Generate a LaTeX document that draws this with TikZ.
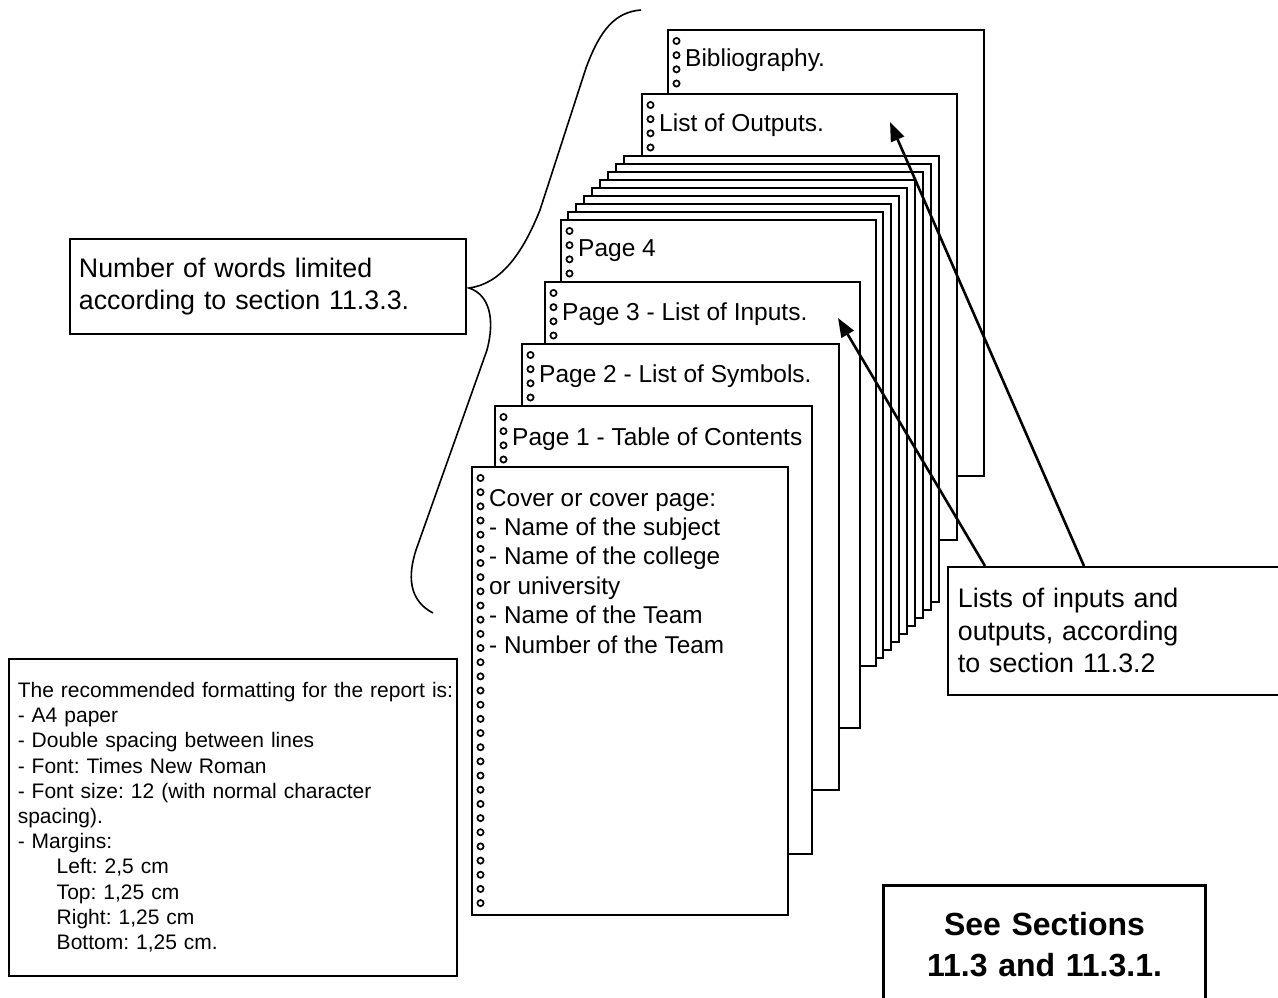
\documentclass[tikz,border=0pt]{standalone}
\usepackage{fontspec}
\setmainfont{Liberation Sans}
\usetikzlibrary{arrows.meta,calc}
\newcommand\drawsheet[5]{%
  \node[sheet, minimum width=#4pt, minimum height=#5pt] (#1) at (#2,#3) {};
  \foreach \k in {0,...,30}{\draw[ring] (#2+9.5,#3+12+14.17*\k) circle[radius=3.1pt];}
}
\frenchspacing
\begin{document}
\frenchspacing
\begin{tikzpicture}[x=1pt,y=-1pt,
  sheet/.style={draw, line width=1.8pt, fill=white, anchor=north west, inner sep=0pt},
  ring/.style={line width=1.7pt},
  ptext/.style={anchor=base west, inner sep=0pt, font=\fontsize{24.5}{29.4}\selectfont},
  infobox/.style={draw, line width=1.8pt, fill=white, anchor=north west, align=left, inner ysep=0pt},
  arr/.style={line width=2.6pt, -{Triangle[length=19pt,width=14pt]}},
  brace/.style={line width=1.6pt},
]
\useasboundingbox (0,0) rectangle (1278,998);
\clip (0,0) rectangle (1278,998);

% sheets, back to front
\drawsheet{bib}{667}{29}{316}{446}
\node[ptext] (tbib) at (685,66.7) {Bibliography.};
\drawsheet{outs}{641}{93}{315}{446}
\node[ptext] (touts) at (659,131.7) {List of Outputs.};
\foreach \j in {0,...,7}{
  \drawsheet{st\j}{623-8*\j}{155+8*\j}{315}{446}
}
\drawsheet{p4}{560}{219}{315}{446}
\node[ptext] (tp4) at (578,256) {Page 4};
\drawsheet{p3}{544}{281}{315}{446}
\node[ptext] (tp3) at (562,320) {Page 3 - List of Inputs.};
\drawsheet{p2}{521}{343}{317}{446}
\node[ptext] (tp2) at (539,382) {Page 2 - List of Symbols.};
\drawsheet{p1}{494}{405}{317}{448}
\node[ptext] (tp1) at (512,445) {Page 1 - Table of Contents};
\drawsheet{cover}{471}{466}{316}{448}
\node[anchor=north west, inner sep=0pt, align=left, font=\fontsize{24.3}{29.4}\selectfont] (tcover) at (489,489)
  {Cover or cover page:\\- Name of the subject\\- Name of the college\\or university\\- Name of the Team\\- Number of the Team};

% brace
\draw[brace] (641,10) .. controls (615,12) and (600,30) .. (586,68)
  -- (540,210) .. controls (522,255) and (500,284) .. (469,288)
  .. controls (490,295) and (495,320) .. (487,350)
  -- (416,550) .. controls (408,575) and (408,600) .. (433,613);

% boxes
\node[infobox, minimum width=396pt, minimum height=95pt, inner xsep=9pt, text width=378pt,
  font=\fontsize{26.8}{32}\selectfont] (words) at (69,238)
  {Number of words limited\\according to section 11.3.3.};
\node[infobox, minimum width=343pt, minimum height=128pt, inner xsep=10pt, text width=323pt,
  font=\fontsize{26.8}{32.5}\selectfont] (lists) at (947,566)
  {Lists of inputs and\\outputs, according\\to section 11.3.2};
\node[infobox, line width=1.5pt, minimum width=448pt, minimum height=317pt, inner xsep=9pt, text width=430pt,
  font=\fontsize{21}{25.2}\selectfont] (fmt) at (8,658)
  {\mbox{The recommended formatting for the report is:}\\
   - A4 paper\\
   - Double spacing between lines\\
   - Font: Times New Roman\\
   \mbox{- Font size: 12 (with normal character}\\
   spacing).\\
   - Margins:\\
   \hspace*{39pt}Left: 2,5 cm\\
   \hspace*{39pt}Top: 1,25 cm\\
   \hspace*{39pt}Right: 1,25 cm\\
   \hspace*{39pt}Bottom: 1,25 cm.};
\node[infobox, line width=3pt, align=center, minimum width=322pt, minimum height=117.6pt, inner xsep=9pt, text width=304pt,
  font=\fontsize{32}{41}\selectfont\bfseries] (see) at (882,884)
  {See Sections\\11.3 and 11.3.1.};

% arrows
\coordinate (tipin) at (838,318);
\coordinate (tipout) at (890,122);
\draw[arr] ($(lists.north west)+(38,0)$) -- (tipin);
\draw[arr] ($(lists.north west)+(137,0)$) -- (tipout);
\end{tikzpicture}
\end{document}
